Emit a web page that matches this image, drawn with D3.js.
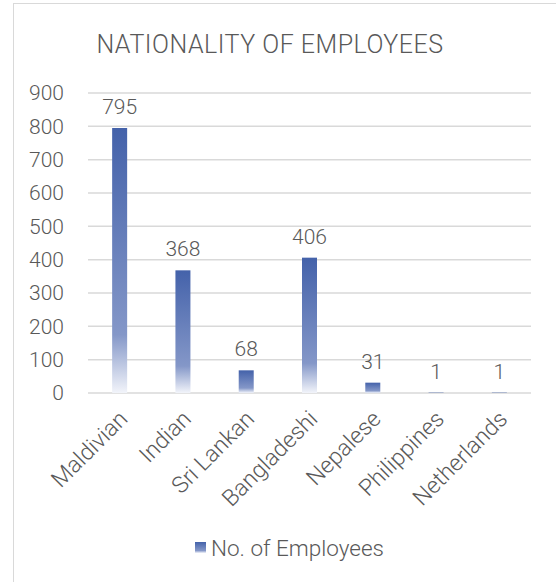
<!DOCTYPE html>
<html>
<head>
<meta charset="utf-8">
<script src="https://cdn.jsdelivr.net/npm/d3@7"></script>
<style>
  body { margin: 0; background: #fff; }
  text { font-family: Roboto, "Noto Sans", sans-serif; font-weight: 300; fill: #595959; }
</style>
</head>
<body>
<svg width="556" height="582"></svg>
<script>
// chart data
const categories = ["Maldivian", "Indian", "Sri Lankan", "Bangladeshi", "Nepalese", "Philippines", "Netherlands"];
const employees = [795, 368, 68, 406, 31, 1, 1];
const yTicks = [0, 100, 200, 300, 400, 500, 600, 700, 800, 900];

const svg = d3.select("svg");

// outer frame (runs past the right/bottom edge)
svg.append("rect")
  .attr("x", 13.5).attr("y", 3.5)
  .attr("width", 600).attr("height", 600)
  .attr("fill", "#fff")
  .attr("stroke", "#d9d9d9");

// gradient for the bars
const grad = svg.append("defs").append("linearGradient")
  .attr("id", "barGrad")
  .attr("x1", 0).attr("y1", 0).attr("x2", 0).attr("y2", 1);
grad.append("stop").attr("offset", "0%").attr("stop-color", "#4462aa");
grad.append("stop").attr("offset", "78%").attr("stop-color", "#8497c8");
grad.append("stop").attr("offset", "100%").attr("stop-color", "#f2f4fa");

const x = d3.scaleBand()
  .domain(categories)
  .range([88, 531]);

const y = d3.scaleLinear()
  .domain([0, 900])
  .range([393, 93]);

// gridlines
svg.append("g")
  .selectAll("line")
  .data(yTicks)
  .enter().append("line")
  .attr("x1", 88).attr("x2", 531)
  .attr("y1", d => y(d)).attr("y2", d => y(d))
  .style("stroke", "#d9d9d9")
  .style("stroke-width", 1.5);

// y axis labels
svg.append("g")
  .selectAll("text")
  .data(yTicks)
  .enter().append("text")
  .attr("x", 64)
  .attr("y", d => y(d))
  .attr("dy", "0.35em")
  .attr("text-anchor", "end")
  .style("font-size", "21px")
  .text(d => d);

// bars
const barW = 15;
svg.append("g")
  .selectAll("rect")
  .data(employees)
  .enter().append("rect")
  .attr("x", (d, i) => x(categories[i]) + x.bandwidth() / 2 - barW / 2)
  .attr("y", d => y(d))
  .attr("width", barW)
  .attr("height", d => y(0) - y(d))
  .attr("fill", "url(#barGrad)");

// value labels
svg.append("g")
  .selectAll("text")
  .data(employees)
  .enter().append("text")
  .attr("x", (d, i) => x(categories[i]) + x.bandwidth() / 2)
  .attr("y", d => y(d) - 14)
  .attr("text-anchor", "middle")
  .style("font-size", "21px")
  .text(d => d);

// category labels, rotated
svg.append("g")
  .selectAll("text")
  .data(categories)
  .enter().append("text")
  .attr("transform", d => `translate(${x(d) + x.bandwidth() / 2 - 2},${409}) rotate(-45)`)
  .attr("text-anchor", "end")
  .attr("dy", "0.7em")
  .style("font-size", "23px")
  .text(d => d);

// title
svg.append("text")
  .attr("x", 270)
  .attr("y", 53)
  .attr("text-anchor", "middle")
  .style("font-size", "25px")
  .style("letter-spacing", "0.5px")
  .text("NATIONALITY OF EMPLOYEES");

// legend
svg.append("rect")
  .attr("x", 195).attr("y", 542)
  .attr("width", 11).attr("height", 11)
  .attr("fill", "url(#barGrad)");
svg.append("text")
  .attr("x", 211)
  .attr("y", 556)
  .style("font-size", "22.5px")
  .text("No. of Employees");
</script>
</body>
</html>
